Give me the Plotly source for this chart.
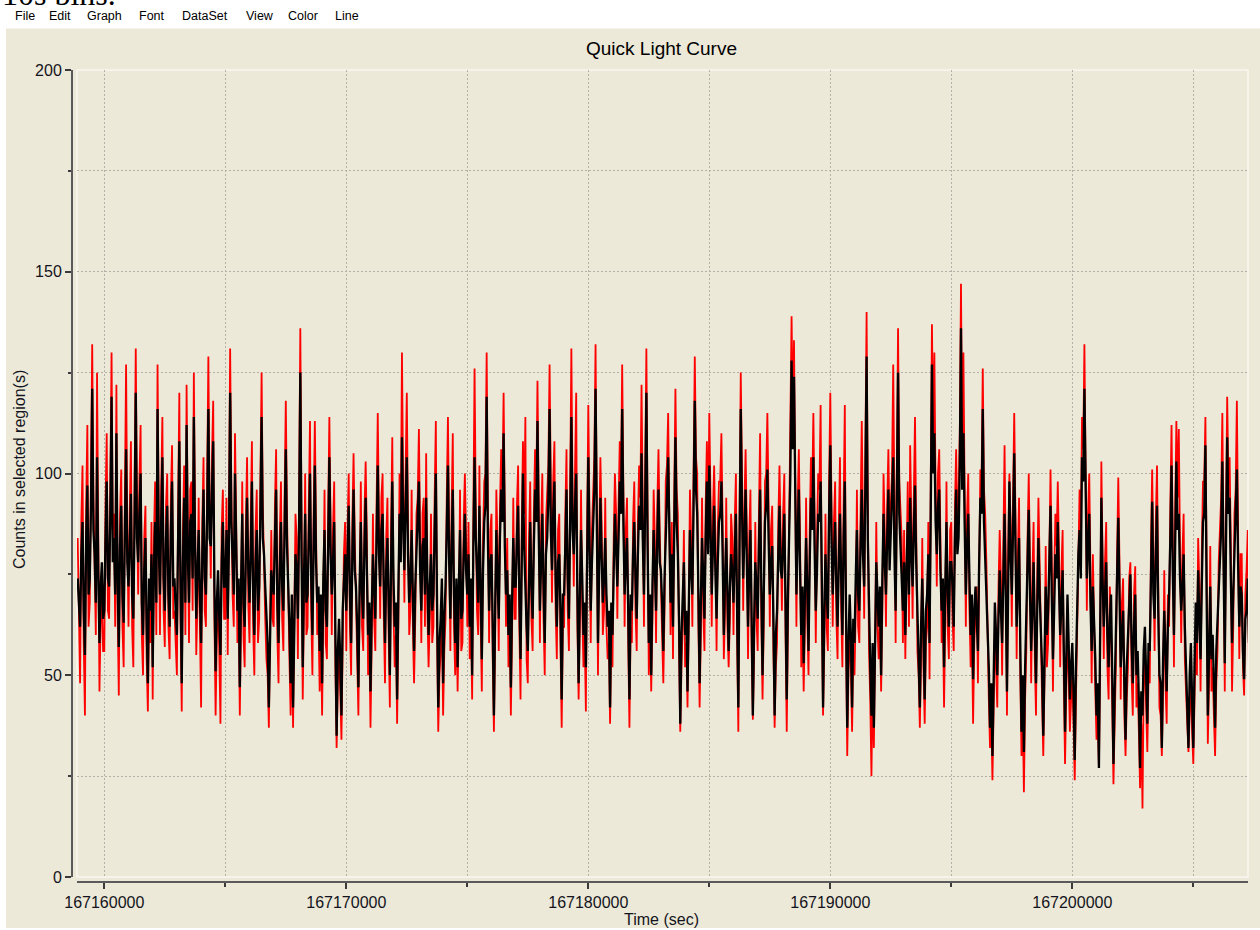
import plotly.graph_objects as go

# ---------------- data ----------------
t_start = 167158900          # time of the first value (s)
bin_size = 50                # spacing of the values typed below (s)

counts_black = [
    74, 66,
    62, 80, 88, 66, 55, 84, 97, 70, 74, 92, 121, 86, 80, 68, 104, 76, 58, 72, 78, 64,      # 167159000
    66, 84, 98, 74, 72, 90, 119, 78, 84, 70, 110, 74, 57, 82, 92, 70, 63, 86, 106, 78,     # 167160000
    72, 82, 95, 70, 64, 88, 120, 84, 78, 90, 100, 68, 60, 76, 84, 62, 48, 74, 66, 80,      # 167161000
    52, 76, 88, 68, 116, 82, 70, 88, 104, 74, 66, 84, 92, 70, 62, 86, 98, 72, 74, 66,      # 167162000
    60, 84, 108, 72, 48, 78, 94, 68, 112, 80, 68, 88, 90, 74, 114, 82, 64, 76, 86, 70,     # 167163000
    58, 80, 96, 74, 70, 90, 116, 84, 82, 96, 108, 72, 51, 68, 76, 64, 55, 78, 88, 72,      # 167164000
    72, 86, 64, 82, 120, 88, 78, 70, 100, 80, 66, 74, 47, 72, 90, 68, 62, 80, 94, 76,      # 167165000
    68, 80, 98, 70, 60, 78, 86, 66, 72, 90, 114, 84, 80, 72, 64, 58, 42, 66, 76, 72,       # 167166000
    70, 84, 96, 68, 58, 76, 88, 72, 66, 86, 106, 82, 74, 62, 48, 70, 42, 68, 80, 76,       # 167167000
    64, 88, 125, 80, 52, 74, 90, 68, 70, 84, 100, 74, 60, 82, 102, 78, 68, 72, 56, 70,     # 167168000
    48, 74, 86, 66, 62, 82, 104, 80, 70, 78, 88, 60, 35, 56, 64, 54, 40, 66, 72, 80,       # 167169000
    66, 78, 92, 70, 58, 80, 96, 76, 72, 62, 47, 72, 88, 70, 64, 82, 94, 76, 60, 68,        # 167170000
    46, 66, 80, 72, 64, 84, 102, 80, 72, 86, 90, 72, 58, 76, 84, 68, 50, 78, 98, 74,       # 167171000
    62, 68, 44, 70, 90, 78, 109, 88, 76, 92, 104, 80, 68, 74, 86, 70, 56, 72, 80, 86,      # 167172000
    98, 76, 66, 82, 84, 70, 94, 74, 60, 72, 80, 66, 70, 86, 100, 68, 42, 58, 64, 74,       # 167173000
    48, 64, 72, 86, 102, 78, 64, 82, 96, 70, 58, 74, 52, 72, 86, 64, 66, 80, 90, 76,       # 167174000
    70, 80, 62, 74, 50, 82, 104, 84, 74, 68, 92, 72, 54, 76, 88, 92, 119, 84, 66, 78,      # 167175000
    80, 62, 40, 66, 86, 74, 64, 84, 96, 88, 110, 82, 70, 76, 60, 70, 47, 68, 84, 72,       # 167176000
    72, 84, 92, 70, 54, 78, 100, 82, 68, 62, 56, 76, 88, 72, 64, 82, 96, 88, 113, 86,      # 167177000
    66, 78, 90, 72, 58, 80, 84, 94, 116, 86, 76, 90, 98, 74, 62, 78, 80, 66, 44, 70,       # 167178000
    70, 82, 96, 74, 64, 88, 114, 86, 80, 92, 100, 70, 48, 70, 86, 74, 60, 68, 52, 78,      # 167179000
    104, 82, 66, 78, 88, 96, 121, 88, 58, 76, 94, 80, 68, 74, 84, 70, 62, 66, 42, 68,      # 167180000
    60, 76, 90, 82, 72, 84, 98, 90, 116, 88, 70, 78, 84, 66, 44, 70, 66, 80, 88, 74,       # 167181000
    64, 80, 92, 86, 105, 84, 70, 92, 120, 82, 58, 70, 50, 72, 86, 76, 66, 84, 96, 78,      # 167182000
    76, 68, 56, 74, 88, 94, 104, 82, 68, 80, 62, 86, 109, 88, 80, 64, 38, 60, 70, 78,      # 167183000
    60, 66, 46, 72, 86, 76, 70, 92, 118, 96, 90, 70, 48, 68, 84, 74, 64, 84, 98, 80,       # 167184000
    102, 86, 70, 82, 92, 76, 64, 78, 88, 90, 98, 80, 60, 74, 84, 70, 56, 72, 80, 76,       # 167185000
    68, 80, 90, 66, 42, 82, 116, 92, 74, 84, 96, 78, 62, 76, 86, 64, 40, 62, 78, 72,       # 167186000
    64, 82, 96, 72, 50, 70, 88, 92, 101, 84, 70, 78, 82, 64, 40, 60, 66, 80, 92, 76,       # 167187000
    74, 82, 90, 68, 44, 70, 82, 100, 128, 106, 124, 90, 70, 84, 96, 76, 60, 72, 53, 70,    # 167188000
    84, 72, 56, 78, 94, 86, 104, 82, 66, 76, 90, 88, 98, 74, 42, 64, 80, 70, 64, 90,       # 167189000
    107, 84, 70, 80, 88, 72, 62, 78, 90, 74, 60, 84, 98, 66, 37, 58, 70, 60, 42, 64,       # 167190000
    58, 74, 86, 70, 66, 82, 96, 80, 72, 98, 129, 84, 64, 52, 40, 58, 37, 64, 78, 70,       # 167191000
    62, 72, 50, 74, 90, 78, 70, 84, 96, 76, 84, 92, 104, 80, 66, 94, 125, 90, 80, 76,      # 167192000
    66, 78, 60, 76, 88, 70, 94, 80, 72, 86, 97, 78, 64, 58, 42, 62, 74, 60, 44, 66,        # 167193000
    70, 80, 58, 90, 127, 100, 110, 88, 80, 92, 96, 76, 66, 74, 52, 72, 88, 70, 62, 78,     # 167194000
    78, 72, 62, 84, 96, 80, 84, 102, 136, 96, 110, 88, 70, 82, 90, 74, 60, 70, 49, 66,     # 167195000
    72, 64, 56, 78, 94, 90, 116, 88, 80, 70, 64, 52, 37, 48, 30, 54, 68, 60, 50, 64,       # 167196000
    76, 66, 58, 74, 90, 70, 46, 72, 98, 80, 70, 86, 105, 82, 62, 72, 84, 58, 36, 50,       # 167197000
    31, 52, 64, 76, 91, 70, 56, 66, 78, 62, 48, 66, 84, 70, 62, 52, 35, 56, 72, 60,        # 167198000
    66, 78, 92, 70, 54, 66, 80, 74, 88, 72, 60, 68, 76, 56, 36, 54, 70, 58, 44, 52,        # 167199000
    58, 46, 29, 52, 70, 80, 86, 74, 104, 98, 121, 92, 74, 82, 90, 68, 56, 72, 64, 54,      # 167200000
    40, 48, 27, 62, 94, 74, 62, 70, 78, 60, 52, 64, 70, 50, 28, 46, 60, 72, 89, 70,        # 167201000
    52, 60, 66, 48, 34, 52, 60, 66, 75, 58, 48, 62, 70, 50, 56, 44, 27, 46, 40, 56,        # 167202000
    62, 50, 38, 58, 56, 74, 93, 70, 64, 80, 92, 66, 50, 48, 32, 54, 66, 56, 46, 62,        # 167203000
    70, 84, 102, 76, 60, 82, 103, 86, 90, 74, 66, 72, 80, 62, 52, 46, 32, 50, 58, 44,      # 167204000
    32, 52, 68, 58, 76, 64, 54, 72, 88, 90, 107, 70, 40, 56, 72, 54, 60, 48, 37, 56,       # 167205000
    64, 70, 78, 86, 103, 78, 53, 82, 109, 90, 94, 74, 58, 70, 80, 88, 101, 78, 62, 72,     # 167206000
    70, 56, 49, 64, 66, 74, 58,                                                            # 167207000
]

counts_red = [
    84, 58,
    48, 88, 102, 58, 40, 92, 112, 62, 68, 100, 132, 94, 76, 60, 125, 84, 46, 64, 70, 56,   # 167159000
    56, 92, 110, 66, 64, 98, 130, 86, 90, 62, 122, 66, 45, 90, 101, 62, 52, 94, 127, 86,   # 167160000
    62, 90, 108, 62, 52, 96, 131, 92, 70, 98, 112, 60, 50, 84, 92, 54, 41, 66, 58, 88,     # 167161000
    44, 84, 98, 60, 127, 90, 60, 96, 114, 66, 57, 92, 100, 62, 54, 94, 107, 64, 66, 58,    # 167162000
    50, 92, 120, 64, 41, 86, 102, 60, 122, 88, 58, 96, 98, 66, 125, 90, 55, 68, 94, 62,    # 167163000
    42, 88, 104, 66, 62, 98, 129, 92, 74, 104, 118, 64, 40, 60, 70, 56, 38, 86, 96, 64,    # 167164000
    64, 94, 55, 90, 131, 96, 70, 62, 110, 88, 58, 66, 40, 64, 98, 60, 52, 88, 104, 68,     # 167165000
    58, 88, 108, 62, 50, 86, 96, 58, 64, 98, 125, 92, 72, 64, 54, 50, 37, 58, 86, 64,      # 167166000
    62, 92, 106, 60, 48, 84, 98, 64, 56, 94, 118, 90, 66, 54, 40, 62, 37, 60, 90, 84,      # 167167000
    54, 96, 136, 88, 44, 66, 100, 60, 62, 92, 113, 66, 50, 90, 113, 86, 60, 64, 46, 62,    # 167168000
    40, 66, 96, 58, 54, 90, 114, 88, 60, 86, 98, 52, 32, 48, 56, 46, 34, 58, 80, 88,       # 167169000
    56, 86, 100, 62, 50, 88, 105, 84, 64, 54, 40, 64, 98, 62, 56, 90, 103, 84, 50, 60,     # 167170000
    37, 58, 90, 64, 56, 92, 115, 88, 64, 94, 100, 64, 48, 84, 94, 60, 42, 86, 109, 66,     # 167171000
    52, 60, 38, 62, 100, 86, 130, 96, 68, 100, 120, 88, 60, 66, 96, 62, 48, 64, 90, 94,    # 167172000
    111, 84, 58, 90, 94, 62, 105, 66, 52, 64, 90, 58, 62, 94, 113, 60, 36, 50, 56, 66,     # 167173000
    40, 56, 64, 94, 114, 86, 56, 90, 110, 62, 50, 66, 46, 64, 96, 56, 58, 88, 100, 84,     # 167174000
    62, 88, 54, 66, 44, 90, 126, 92, 66, 60, 102, 64, 46, 84, 98, 100, 130, 92, 58, 86,    # 167175000
    90, 54, 36, 58, 96, 82, 56, 92, 106, 96, 120, 90, 62, 84, 52, 62, 40, 60, 94, 64,      # 167176000
    64, 92, 102, 62, 44, 86, 108, 90, 114, 54, 48, 84, 98, 64, 56, 90, 106, 96, 123, 94,   # 167177000
    58, 86, 100, 64, 50, 88, 94, 102, 127, 94, 68, 98, 108, 66, 54, 86, 90, 58, 37, 62,    # 167178000
    62, 90, 106, 66, 56, 96, 131, 94, 72, 100, 120, 62, 44, 62, 96, 66, 52, 60, 41, 86,    # 167179000
    117, 90, 58, 86, 98, 104, 132, 96, 50, 84, 104, 88, 60, 66, 94, 62, 54, 58, 38, 60,    # 167180000
    52, 84, 100, 90, 64, 92, 108, 98, 127, 96, 62, 86, 94, 58, 37, 62, 58, 88, 98, 66,     # 167181000
    56, 88, 102, 94, 122, 92, 62, 100, 131, 90, 50, 62, 46, 64, 96, 84, 58, 92, 106, 86,   # 167182000
    68, 60, 48, 66, 98, 102, 115, 90, 60, 88, 54, 94, 121, 96, 90, 56, 36, 52, 62, 86,     # 167183000
    52, 58, 42, 64, 96, 84, 62, 100, 129, 104, 100, 62, 42, 60, 94, 66, 56, 92, 108, 88,   # 167184000
    115, 94, 62, 90, 102, 84, 56, 86, 98, 98, 110, 88, 54, 66, 94, 62, 52, 64, 90, 84,     # 167185000
    60, 88, 100, 58, 36, 90, 125, 100, 66, 92, 106, 86, 54, 84, 96, 56, 39, 54, 88, 64,    # 167186000
    56, 90, 110, 64, 44, 62, 98, 100, 115, 92, 62, 86, 92, 56, 37, 52, 58, 88, 102, 84,    # 167187000
    66, 90, 100, 60, 36, 62, 92, 108, 139, 114, 133, 98, 62, 92, 106, 84, 52, 64, 46, 62,  # 167188000
    94, 64, 50, 86, 104, 94, 115, 90, 58, 84, 100, 96, 117, 66, 40, 56, 90, 62, 56, 98,    # 167189000
    120, 92, 62, 88, 98, 64, 54, 86, 104, 66, 52, 92, 117, 58, 30, 50, 62, 52, 36, 56,     # 167190000
    50, 66, 96, 62, 58, 90, 113, 88, 64, 106, 140, 92, 56, 44, 25, 50, 32, 56, 88, 62,     # 167191000
    54, 64, 46, 66, 100, 86, 62, 92, 106, 84, 94, 100, 127, 88, 58, 102, 136, 98, 90, 84,  # 167192000
    58, 86, 54, 84, 98, 62, 107, 88, 64, 94, 114, 86, 56, 50, 37, 54, 84, 52, 38, 58,      # 167193000
    62, 88, 49, 98, 137, 108, 130, 96, 72, 100, 106, 84, 58, 66, 42, 64, 98, 62, 54, 86,   # 167194000
    88, 64, 56, 92, 106, 88, 94, 110, 147, 104, 130, 96, 62, 90, 100, 66, 52, 62, 38, 58,  # 167195000
    64, 72, 48, 86, 101, 98, 126, 96, 90, 78, 56, 44, 32, 40, 24, 46, 60, 52, 42, 72,      # 167196000
    86, 74, 50, 82, 107, 78, 40, 80, 100, 88, 62, 94, 115, 90, 54, 80, 94, 50, 30, 42,     # 167197000
    21, 44, 56, 84, 100, 78, 48, 74, 88, 54, 40, 74, 94, 78, 54, 44, 30, 48, 82, 52,       # 167198000
    58, 86, 101, 78, 46, 74, 90, 82, 98, 80, 52, 76, 86, 48, 28, 46, 62, 50, 36, 44,       # 167199000
    50, 38, 24, 44, 62, 88, 96, 82, 114, 106, 132, 100, 66, 90, 100, 76, 48, 80, 56, 46,   # 167200000
    34, 40, 27, 54, 103, 82, 54, 78, 88, 52, 44, 72, 62, 42, 23, 38, 52, 80, 99, 78,       # 167201000
    44, 68, 74, 40, 30, 44, 52, 74, 78, 50, 40, 70, 77, 42, 48, 36, 22, 38, 17, 48,        # 167202000
    54, 42, 31, 50, 48, 82, 101, 78, 56, 88, 102, 74, 42, 40, 30, 46, 76, 48, 38, 70,      # 167203000
    62, 92, 112, 84, 52, 90, 113, 94, 111, 82, 58, 80, 90, 54, 44, 38, 31, 42, 50, 36,     # 167204000
    28, 44, 60, 50, 84, 72, 46, 80, 98, 98, 114, 78, 33, 48, 82, 46, 52, 40, 30, 48,       # 167205000
    56, 78, 88, 94, 115, 86, 46, 90, 119, 98, 104, 82, 46, 62, 90, 96, 118, 86, 54, 80,    # 167206000
    80, 52, 45, 70, 76, 86, 50,                                                            # 167207000
]

x_range = [167158872, 167207260]
x_major_vals = [167160000, 167170000, 167180000, 167190000, 167200000]
x_major_text = ["167160000", "167170000", "167180000", "167190000", "167200000"]
x_minor_vals = [167165000, 167175000, 167185000, 167195000, 167205000]
y_major_vals = [0, 50, 100, 150, 200]
y_major_text = ["0", "50", "100", "150", "200"]
y_minor_vals = [25, 75, 125, 175]

menu_items = ["File", "Edit", "Graph", "Font", "DataSet", "View", "Color", "Line"]
menu_left_px = [13, 47, 85, 137, 180, 244, 286, 333]

title_text = "Quick Light Curve"
x_title = "Time (sec)"
y_title = "Counts in selected region(s)"
top_text = "10s bins."

# ---------------- layout geometry ----------------
W, H = 1260, 930
L, R, T, B = 72, 12, 70, 48
PW, PH = W - L - R, H - T - B
BEIGE = "#ECE9D8"
FONT = "Liberation Sans"
GRID = "#b3b1a7"


def px(x):
    return (x - L) / PW


def py(y):
    return (H - B - y) / PH


times = [t_start + bin_size * i for i in range(len(counts_black))]

fig = go.Figure()
fig.add_trace(go.Scatter(x=times, y=counts_red, mode="lines",
                         line=dict(color="#FF0000", width=1.8),
                         hoverinfo="skip", showlegend=False))
fig.add_trace(go.Scatter(x=times, y=counts_black, mode="lines",
                         line=dict(color="#000000", width=2.3),
                         hoverinfo="skip", showlegend=False))

axis_common = dict(
    showline=True, linecolor="#5a5a5a", linewidth=2,
    ticks="outside", tickcolor="#3a3a3a", tickwidth=1.5,
    showgrid=True, gridcolor=GRID, griddash="2px,2px", gridwidth=1,
    zeroline=False, tickfont=dict(family=FONT, size=16, color="#141420"),
    anchor="free", position=0, fixedrange=True, tickmode="array",
)

fig.update_layout(
    width=W, height=H,
    margin=dict(l=L, r=R, t=T, b=B, pad=0),
    paper_bgcolor=BEIGE, plot_bgcolor=BEIGE,
    showlegend=False,
    xaxis=dict(range=x_range, domain=[5 / PW, 1],
               tickvals=x_major_vals, ticktext=x_major_text, ticklen=6,
               minor=dict(tickmode="array", tickvals=x_minor_vals, ticks="outside",
                          ticklen=4, tickcolor="#3a3a3a", tickwidth=1.5,
                          showgrid=True, gridcolor=GRID, griddash="2px,2px", gridwidth=1),
               **axis_common),
    yaxis=dict(range=[0, 200], domain=[5 / PH, 1],
               tickvals=y_major_vals, ticktext=y_major_text, ticklen=6,
               minor=dict(tickmode="array", tickvals=y_minor_vals, ticks="outside",
                          ticklen=3, tickcolor="#3a3a3a", tickwidth=1.5,
                          showgrid=True, gridcolor=GRID, griddash="2px,2px", gridwidth=1),
               **axis_common),
)

shapes = [
    # white window area above the beige panel (menu bar) and thin white borders
    dict(type="rect", xref="paper", yref="paper", x0=px(0), x1=px(W), y0=py(0), y1=py(28.5),
         fillcolor="white", line=dict(width=0), layer="below"),
    dict(type="rect", xref="paper", yref="paper", x0=px(0), x1=px(6), y0=py(0), y1=py(H),
         fillcolor="white", line=dict(width=0), layer="below"),
    dict(type="rect", xref="paper", yref="paper", x0=px(0), x1=px(W), y0=py(928), y1=py(H),
         fillcolor="white", line=dict(width=0), layer="below"),
    # light frame of the plotting area
    dict(type="rect", xref="paper", yref="paper", x0=px(77), x1=px(1248), y0=py(877), y1=py(70),
         fillcolor="rgba(0,0,0,0)", line=dict(color="#f7f6f0", width=1.5), layer="below"),
]
fig.update_layout(shapes=shapes)

annotations = [
    dict(text=top_text, x=px(0), y=py(14), xref="paper", yref="paper",
         xanchor="left", yanchor="bottom", showarrow=False,
         font=dict(family="Liberation Serif", size=32, color="#000")),
    dict(text=title_text, x=px(662), y=py(49), xref="paper", yref="paper",
         xanchor="center", yanchor="middle", showarrow=False,
         font=dict(family=FONT, size=19, color="#000")),
    dict(text=x_title, x=px(662), y=py(919.5), xref="paper", yref="paper",
         xanchor="center", yanchor="middle", showarrow=False,
         font=dict(family=FONT, size=16, color="#141420")),
    dict(text=y_title, x=px(20), y=py(470), xref="paper", yref="paper",
         xanchor="center", yanchor="middle", showarrow=False, textangle=-90,
         font=dict(family=FONT, size=16, color="#141420")),
]
for name, left in zip(menu_items, menu_left_px):
    annotations.append(dict(text=name, x=px(left), y=py(16.5), xref="paper", yref="paper",
                            xanchor="left", yanchor="middle", showarrow=False,
                            font=dict(family=FONT, size=12.5, color="#000")))
fig.update_layout(annotations=annotations)

# the page body's default 8px margin would shift the whole figure; remove it
fig.write_html("out.html", config={"displayModeBar": False},
               post_script="document.body.style.margin='0px';")
